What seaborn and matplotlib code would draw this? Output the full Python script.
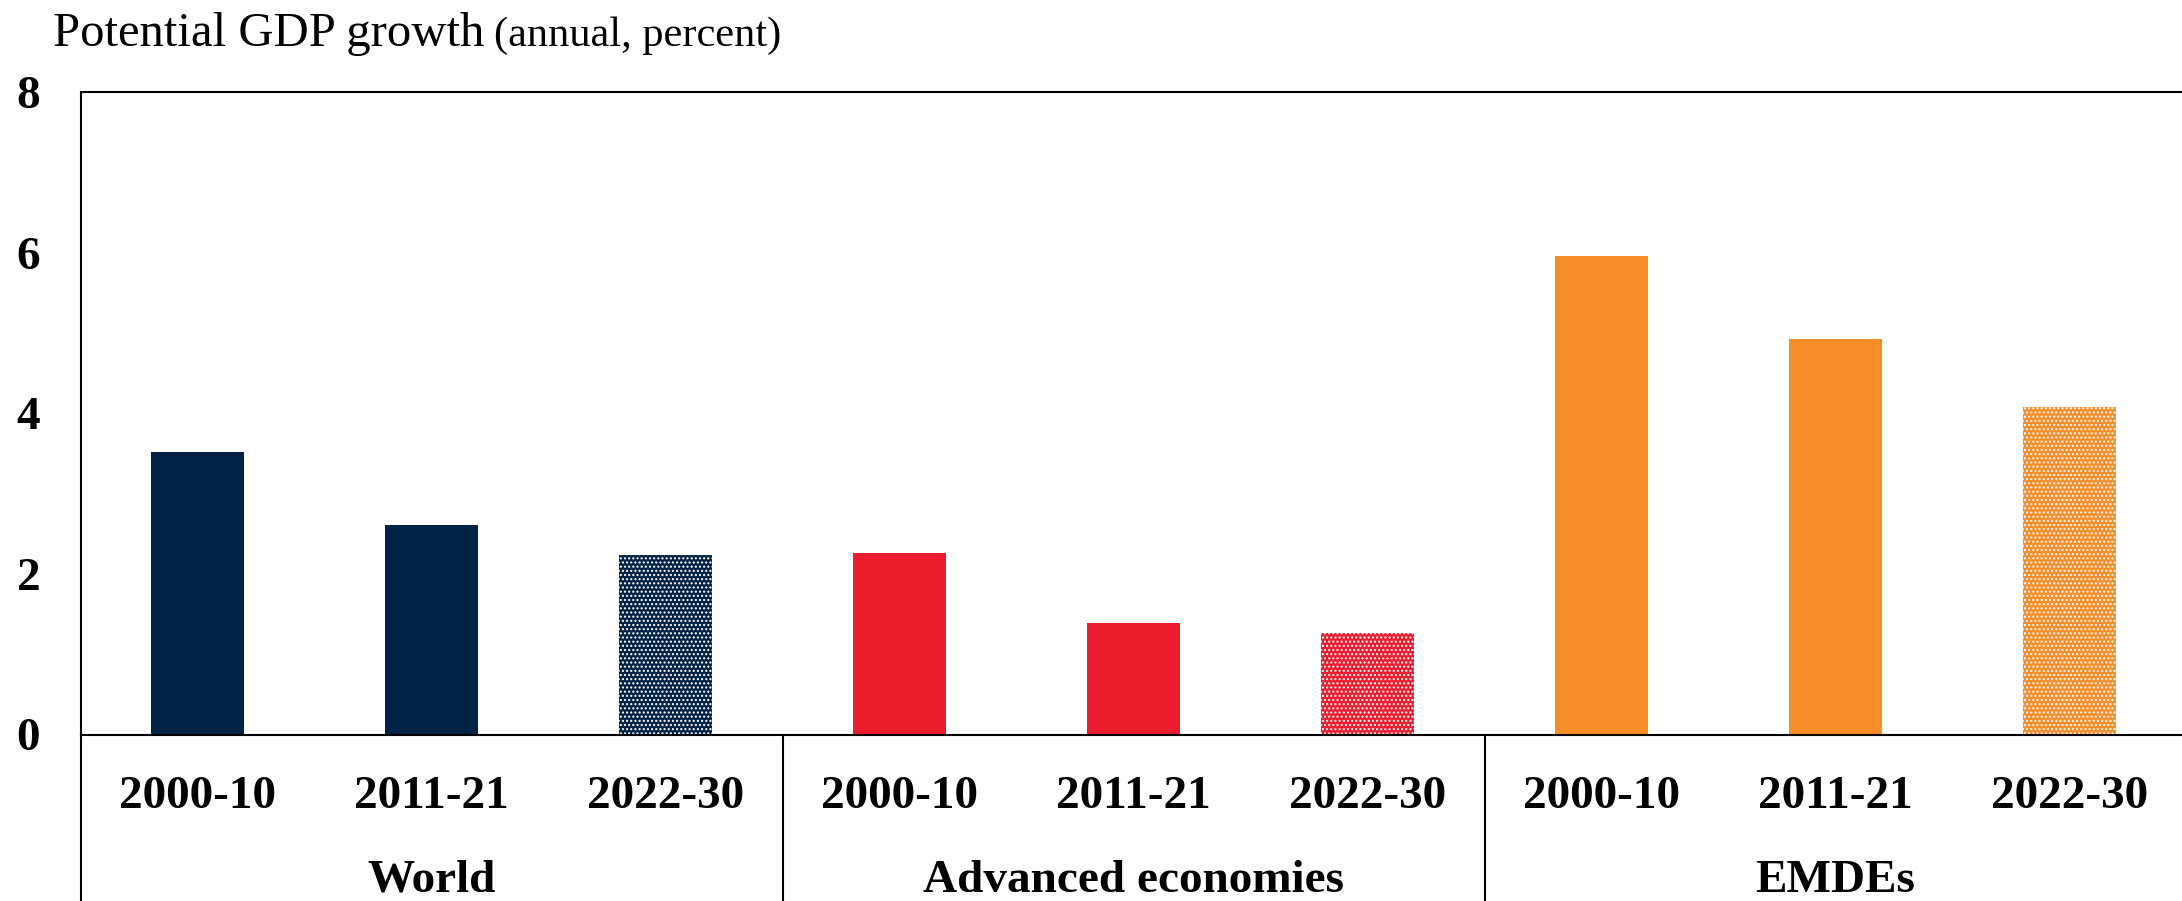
import numpy as np
import pandas as pd
import matplotlib
matplotlib.use("Agg")
import matplotlib.pyplot as plt
import matplotlib.transforms as mtransforms
import seaborn as sns

# Potential GDP growth by country group and period (annual, percent)
groups = ["World", "Advanced economies", "EMDEs"]
periods = ["2000-10", "2011-21", "2022-30"]
world = [3.52, 2.61, 2.24]
advanced = [2.26, 1.39, 1.27]
emdes = [5.96, 4.93, 4.08]
group_colors = ["#002345", "#EB1C2D", "#F78D28"]
projection_period = "2022-30"

sns.set_style("white")
plt.rcParams["font.family"] = ["Liberation Serif", "DejaVu Serif"]
plt.rcParams["hatch.linewidth"] = 1.0
plt.rcParams["text.color"] = "black"
plt.rcParams["xtick.color"] = "black"
plt.rcParams["ytick.color"] = "black"
plt.rcParams["xtick.labelcolor"] = "black"
plt.rcParams["ytick.labelcolor"] = "black"

rows = []
for g, vals in zip(groups, [world, advanced, emdes]):
    for p, v in zip(periods, vals):
        rows.append({"key": f"{g} {p}", "group": g, "period": p, "value": v})
df = pd.DataFrame(rows)
palette = {f"{g} {p}": c for g, c in zip(groups, group_colors) for p in periods}

W, H, DPI = 2182, 901, 100
fig = plt.figure(figsize=(W / DPI, H / DPI), dpi=DPI)
left, right, bottom, top = 80.5, 2186.5, 734.5, 92.0
ax = fig.add_axes([left / W, (H - bottom) / H, (right - left) / W, (bottom - top) / H])

sns.barplot(data=df, x="key", y="value", hue="key", palette=palette,
            order=list(df["key"]), hue_order=list(df["key"]),
            width=0.4, linewidth=0, saturation=1, legend=False, ax=ax)

# Projected period drawn with a fine dotted fill
for patch, per in zip(ax.patches, df["period"]):
    if per == projection_period:
        patch.set_hatch("....")
        patch.set_edgecolor("white")
        patch.set_linewidth(0)
        if hasattr(patch, "set_hatch_linewidth"):
            patch.set_hatch_linewidth(1.0)

ax.set_xlim(-0.5, len(df) - 0.5)
ax.set_ylim(0, 8)
ax.set_yticks([0, 2, 4, 6, 8])
ax.set_yticklabels([str(t) for t in [0, 2, 4, 6, 8]], fontsize=34, fontweight="bold")
ax.set_xticks(range(len(df)))
ax.set_xticklabels(df["period"], fontsize=34, fontweight="bold")
ax.tick_params(axis="y", length=0, pad=29, labelcolor="black")
ax.tick_params(axis="x", length=0, pad=30, labelcolor="black")
ax.set_xlabel("")
ax.set_ylabel("")
for s in ["left", "right", "top", "bottom"]:
    ax.spines[s].set_visible(True)
    ax.spines[s].set_color("black")
    ax.spines[s].set_linewidth(1.5)

# Group separators and group labels below the axis
trans = mtransforms.blended_transform_factory(ax.transData, ax.transAxes)
depth = -(H - bottom) / (bottom - top)
for xb in [-0.5, 2.5, 5.5, 8.5]:
    ax.plot([xb, xb], [0, depth], transform=trans, color="black",
            linewidth=1.5, clip_on=False)
for i, g in enumerate(groups):
    ax.text(i * 3 + 1, (bottom - 892) / (bottom - top), g, transform=trans,
            ha="center", va="baseline", fontsize=34, fontweight="bold",
            color="black")

# Title
fig.text(53 / W, (H - 46) / H, "Potential GDP growth", fontsize=35,
         ha="left", va="baseline", color="black")
fig.text(494 / W, (H - 46) / H, "(annual, percent)", fontsize=30.5,
         ha="left", va="baseline", color="black")

fig.savefig("out.png", dpi=DPI)
